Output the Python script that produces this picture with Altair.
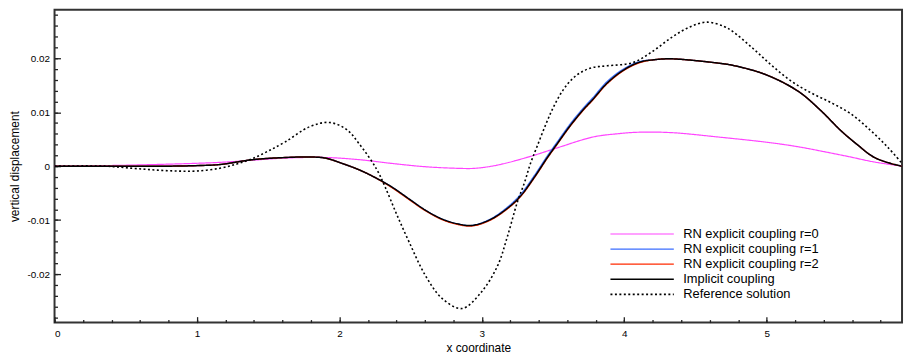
import altair as alt
import pandas as pd

# ---------------- data ----------------
series_names = [
    "RN explicit coupling r=0",
    "RN explicit coupling r=1",
    "RN explicit coupling r=2",
    "Implicit coupling",
    "Reference solution",
]

r0_x = [0, 0.35, 0.70, 1.16, 1.39, 1.62, 1.91, 2.14, 2.37, 2.60, 2.83, 2.95, 3.11,
        3.34, 3.53, 3.78, 3.95, 4.11, 4.34, 4.66, 5.01, 5.22, 5.40, 5.57, 5.75, 5.95]
r0_y = [0, 0.0001, 0.0003, 0.0007, 0.0011, 0.0015, 0.0016, 0.0012, 0.0005, -0.0001,
        -0.0004, -0.0004, 0.0002, 0.0018, 0.0034, 0.0054, 0.0060, 0.0063, 0.0062,
        0.0054, 0.0044, 0.0036, 0.0027, 0.0018, 0.0008, 0.0]

impl_x = [0, 0.5, 0.81, 1.0, 1.16, 1.39, 1.62, 1.79, 1.90, 2.02, 2.14, 2.25, 2.37, 2.49,
          2.60, 2.72, 2.83, 2.93, 3.06, 3.18, 3.27, 3.37, 3.46, 3.53, 3.62, 3.71, 3.78,
          3.88, 4.0, 4.11, 4.20, 4.30, 4.40, 4.66, 4.76, 4.99, 5.22, 5.38, 5.52, 5.64,
          5.75, 5.87, 5.95]
impl_y = [0, 0, 0, 0.0001, 0.0003, 0.0012, 0.0016, 0.0017, 0.0015, 0.0005, -0.0007,
          -0.0021, -0.0039, -0.0061, -0.0081, -0.0098, -0.0107, -0.0110, -0.0099,
          -0.0078, -0.0056, -0.0020, 0.0016, 0.0042, 0.0075, 0.0104, 0.0124, 0.0154,
          0.0179, 0.0193, 0.0197, 0.0199, 0.0198, 0.0191, 0.0187, 0.0170, 0.0139,
          0.0103, 0.0066, 0.0039, 0.0017, 0.0005, 0.0]

r1_x = impl_x
r1_y = [0, 0, 0, 0.0001, 0.0003, 0.0012, 0.0016, 0.0017, 0.0015, 0.0005, -0.0007,
        -0.0021, -0.0039, -0.0061, -0.0081, -0.0098, -0.0107, -0.0110, -0.0098,
        -0.0076, -0.0053, -0.0017, 0.0019, 0.0045, 0.0078, 0.0107, 0.0127, 0.0157,
        0.0181, 0.0194, 0.0197, 0.0199, 0.0198, 0.0191, 0.0187, 0.0170, 0.0139,
        0.0103, 0.0066, 0.0039, 0.0017, 0.0005, 0.0]

r2_x = impl_x
r2_y = [0, 0, 0, 0.0001, 0.0003, 0.0012, 0.0016, 0.0017, 0.0015, 0.0005, -0.0007,
        -0.0021, -0.0040, -0.0062, -0.0082, -0.0099, -0.0108, -0.0111, -0.0100,
        -0.0079, -0.0057, -0.0021, 0.0015, 0.0041, 0.0074, 0.0103, 0.0123, 0.0153,
        0.0178, 0.0192, 0.0197, 0.0199, 0.0198, 0.0191, 0.0187, 0.0170, 0.0139,
        0.0103, 0.0066, 0.0039, 0.0017, 0.0005, 0.0]

ref_x = [0, 0.35, 0.55, 0.70, 0.85, 1.0, 1.16, 1.28, 1.39, 1.50, 1.62, 1.79, 1.93, 2.05,
         2.14, 2.26, 2.32, 2.40, 2.49, 2.60, 2.72, 2.86, 2.995, 3.11, 3.18, 3.25, 3.30,
         3.34, 3.39, 3.45, 3.50, 3.57, 3.64, 3.71, 3.78, 3.88, 4.06, 4.20, 4.34, 4.46,
         4.58, 4.70, 4.76, 4.90, 5.03, 5.17, 5.31, 5.45, 5.59, 5.73, 5.85, 5.95]
ref_y = [0, 0, -0.0004, -0.0007, -0.0009, -0.0009, -0.0004, 0.0004, 0.0014, 0.0028,
         0.0045, 0.0073, 0.0081, 0.0068, 0.0041, -0.0005, -0.0038, -0.0088, -0.0141,
         -0.0201, -0.0245, -0.0264, -0.0234, -0.0185, -0.0130, -0.0066, -0.0030,
         0.0004, 0.0038, 0.0078, 0.0108, 0.0141, 0.0163, 0.0176, 0.0183, 0.0186,
         0.0192, 0.0213, 0.0240, 0.0258, 0.0267, 0.0259, 0.0250, 0.0219, 0.0188,
         0.0158, 0.0136, 0.0118, 0.0097, 0.0066, 0.0035, 0.0005]

x_labels = [0, 1, 2, 3, 4, 5]
x_minor = [round(0.2 * i, 1) for i in range(30)]
y_labels = [-0.02, -0.01, 0, 0.01, 0.02]
y_minor = [round(-0.028 + 0.002 * i, 3) for i in range(29)]

colors = ["#ff44ff", "#3a6cff", "#ff2a00", "#000000", "#000000"]
dashes = [[1, 0], [1, 0], [1, 0], [1, 0], [2, 2.5]]
widths = [1.2, 1.6, 1.6, 1.5, 2.2]

rows = []
for name, xs, ys in zip(series_names, [r0_x, r1_x, r2_x, impl_x, ref_x],
                        [r0_y, r1_y, r2_y, impl_y, ref_y]):
    for i, (xv, yv) in enumerate(zip(xs, ys)):
        rows.append({"series": name, "x": xv, "y": yv, "order": i})
df = pd.DataFrame(rows)

FONT = "Liberation Sans"
xscale = alt.Scale(domain=[0, 5.95], nice=False, zero=False)
yscale = alt.Scale(domain=[-0.029, 0.029], nice=False, zero=False)

legend = alt.Legend(
    title=None, orient="none", legendX=587, legendY=220,
    symbolType="M-8,0H8", symbolSize=64, symbolStrokeWidth=1.5,
    labelFontSize=13, labelFont=FONT, labelColor="#000", labelOffset=35,
    rowPadding=1.25, padding=0,
)

lines = alt.Chart(df).mark_line(interpolate="catmull-rom", clip=True).encode(
    x=alt.X("x:Q", scale=xscale, axis=alt.Axis(
        orient="bottom", title="x coordinate", values=x_labels, labelExpr="'' + datum.value",
        tickSize=0, domain=False, grid=False, labelFontSize=10, titleFontSize=12,
        labelPadding=6, titlePadding=4, labelFont=FONT, titleFont=FONT,
        titleFontWeight="normal", labelColor="#000", titleColor="#000")),
    y=alt.Y("y:Q", scale=yscale, axis=alt.Axis(
        orient="left", title="vertical displacement", values=y_labels,
        labelExpr="'' + datum.value", tickSize=0, domain=False, grid=False,
        labelFontSize=10, titleFontSize=12, labelPadding=5, titlePadding=6,
        labelFont=FONT, titleFont=FONT, titleFontWeight="normal",
        labelColor="#000", titleColor="#000")),
    color=alt.Color("series:N", scale=alt.Scale(domain=series_names, range=colors), legend=legend),
    strokeDash=alt.StrokeDash("series:N", scale=alt.Scale(domain=series_names, range=dashes), legend=legend),
    strokeWidth=alt.StrokeWidth("series:N", scale=alt.Scale(domain=series_names, range=widths), legend=None),
    order="order:Q",
)


def tick_layer(xvals, yvals, size):
    return alt.Chart(df).mark_point(opacity=0).encode(
        x=alt.X("x:Q", scale=xscale, axis=alt.Axis(
            orient="bottom", values=xvals, labels=False, title=None, domain=False,
            grid=False, tickSize=size, offset=-size, tickColor="#222", tickWidth=1.3)),
        y=alt.Y("y:Q", scale=yscale, axis=alt.Axis(
            orient="left", values=yvals, labels=False, title=None, domain=False,
            grid=False, tickSize=size, offset=-size, tickColor="#222", tickWidth=1.3)),
    )


chart = alt.layer(
    lines,
    tick_layer(x_labels, y_labels, 6),
    tick_layer(x_minor, y_minor, 3),
).resolve_axis(x="independent", y="independent").properties(
    width=856, height=316, padding={"left": 0, "top": 0, "right": 0, "bottom": 0},
).configure(font=FONT, view={"stroke": "#333", "strokeWidth": 2})

chart.save("out.html", embed_options={"renderer": "svg", "actions": False})
